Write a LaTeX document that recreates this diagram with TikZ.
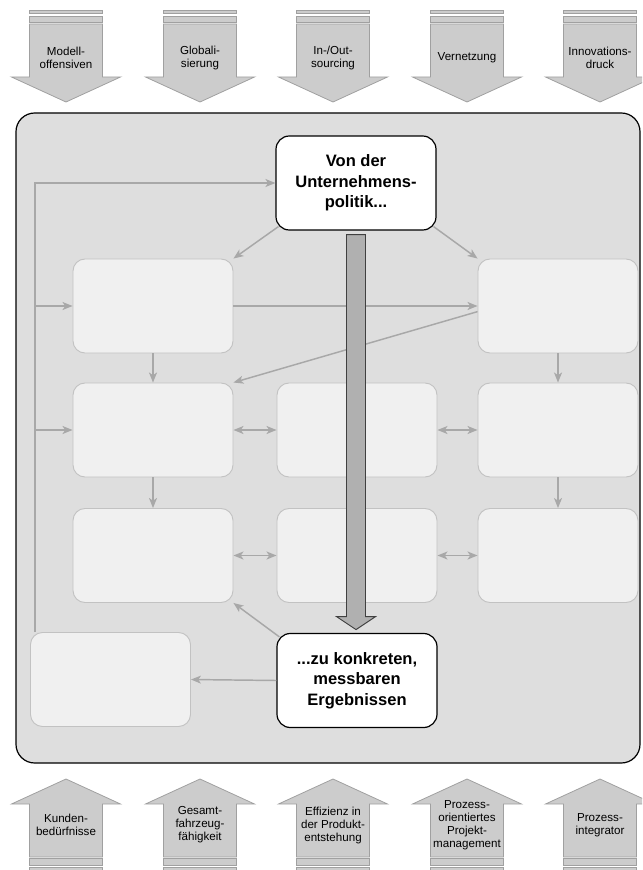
\documentclass[tikz,border=0pt]{standalone}
\usepackage{fontspec}
\setmainfont{Liberation Sans}
\usetikzlibrary{arrows.meta}

\definecolor{panelfill}{HTML}{DEDEDE}
\definecolor{cellfill}{HTML}{F0F0F0}
\definecolor{cellline}{HTML}{C2C2C2}
\definecolor{linkgray}{HTML}{A8A8A8}
\definecolor{forcefill}{HTML}{CCCCCC}
\definecolor{forceline}{HTML}{A0A0A0}
\definecolor{flowfill}{HTML}{B0B0B0}

\tikzset{
    >={Stealth[length=7.5pt, width=6pt, inset=2pt]},
    cell/.style={draw=cellline, fill=cellfill, line width=0.7pt, rounded corners=9pt,
        minimum width=120pt, minimum height=70.5pt, inner sep=0pt},
    goal/.style={draw=black, fill=white, line width=0.9pt, rounded corners=10pt,
        minimum width=120pt, minimum height=70.5pt, align=center,
        font=\bfseries\fontsize{12.4}{15.4}\selectfont},
    link/.style={draw=linkgray, line width=1.1pt},
    force/.style={draw=forceline, fill=forcefill, line width=0.6pt},
    forcetext/.style={align=center, inner sep=0pt, font=\fontsize{8.7}{9.75}\selectfont},
}

\begin{document}
\begin{tikzpicture}[x=0.75pt, y=-0.75pt]
        \useasboundingbox (0,0) rectangle (642,870);
        \clip (0,0) rectangle (642,870);

        \foreach \x/\lbl [count=\i] in {66/{Modell-\\offensiven}, 200/{Globali-\\sierung},
                333/{In-/Out-\\sourcing}, 467/{Vernetzung}, 600/{Innovations-\\druck}} {
            \draw[force] (\x-36.5,10) rectangle (\x+36.5,13.5);
            \draw[force] (\x-36.5,16) rectangle (\x+36.5,22.5);
            \draw[force] (\x-36.5,24) -- (\x+36.5,24) -- (\x+36.5,77) -- (\x+54.5,77)
                -- (\x,102) -- (\x-54.5,77) -- (\x-36.5,77) -- cycle;
            \node[forcetext] (top\i) at (\x,58) {\lbl};
        }
        \foreach \x/\lbl [count=\i] in {66/{Kunden-\\bedürfnisse}, 200/{Gesamt-\\fahrzeug-\\fähigkeit},
                333/{Effizienz in\\der Produkt-\\entstehung}, 467/{Prozess-\\orientiertes\\Projekt-\\management},
                600/{Prozess-\\integrator}} {
            \draw[force] (\x-36.5,867.5) rectangle (\x+36.5,871);
            \draw[force] (\x-36.5,858.5) rectangle (\x+36.5,865);
            \draw[force] (\x-36.5,857) -- (\x+36.5,857) -- (\x+36.5,804) -- (\x+54.5,804)
                -- (\x,779) -- (\x-54.5,804) -- (\x-36.5,804) -- cycle;
            \node[forcetext] (bot\i) at (\x,825) {\lbl};
        }

        \draw[fill=panelfill, line width=0.9pt, rounded corners=14pt] (16,113) rectangle (640,763);

        \node[goal] (vonder) at (356,183) {Von der\\Unternehmens-\\politik...};
        \node[goal] (zuerg) at (357,680.5) {...zu konkreten,\\messbaren\\Ergebnissen};
        \node[cell] (r1c1) at (153,306) {};
        \node[cell] (r1c3) at (558,306) {};
        \node[cell] (r2c1) at (153,430) {};
        \node[cell] (r2c2) at (357,430) {};
        \node[cell] (r2c3) at (558,430) {};
        \node[cell] (r3c1) at (153,555.5) {};
        \node[cell] (r3c2) at (357,555.5) {};
        \node[cell] (r3c3) at (558,555.5) {};
        \node[cell] (back) at (110.5,679.5) {};
        \coordinate (loop) at (35,0);

        \draw[link, ->] (back.north -| loop) |- (vonder.west);
        \draw[link, ->] (loop |- r1c1.west) -- (r1c1.west);
        \draw[link, ->] (loop |- r2c1.west) -- (r2c1.west);
        \draw[link, ->] ([shift={(3,-4)}]vonder.south west) -- (r1c1.north east);
        \draw[link, ->] ([shift={(-3,-4)}]vonder.south east) -- (r1c3.north west);
        \draw[link, ->] (r1c1.east) -- (r1c3.west);
        \draw[link, ->] (r1c3.184) -- (r2c1.north east);
        \draw[link, ->] (r1c1.south) -- (r2c1.north);
        \draw[link, ->] (r1c3.south) -- (r2c3.north);
        \draw[link, ->] (r2c1.south) -- (r3c1.north);
        \draw[link, ->] (r2c3.south) -- (r3c3.north);
        \draw[link, <->] (r2c1.east) -- (r2c2.west);
        \draw[link, <->] (r2c2.east) -- (r2c3.west);
        \draw[link, <->] (r3c1.east) -- (r3c2.west);
        \draw[link, <->] (r3c2.east) -- (r3c3.west);
        \draw[link, ->] ([shift={(3,4)}]zuerg.north west) -- (r3c1.south east);
        \draw[link, ->] (zuerg.west) -- (back.east);

        \draw[fill=flowfill, draw=black!75, line width=0.7pt] ([shift={(-9.5,4)}]vonder.south)
            -- ++(19,0) -- ++(0,382) -- ++(10,0) -- ++(-19.5,13) -- ++(-19.5,-13) -- ++(10,0) -- cycle;
\end{tikzpicture}
\end{document}
